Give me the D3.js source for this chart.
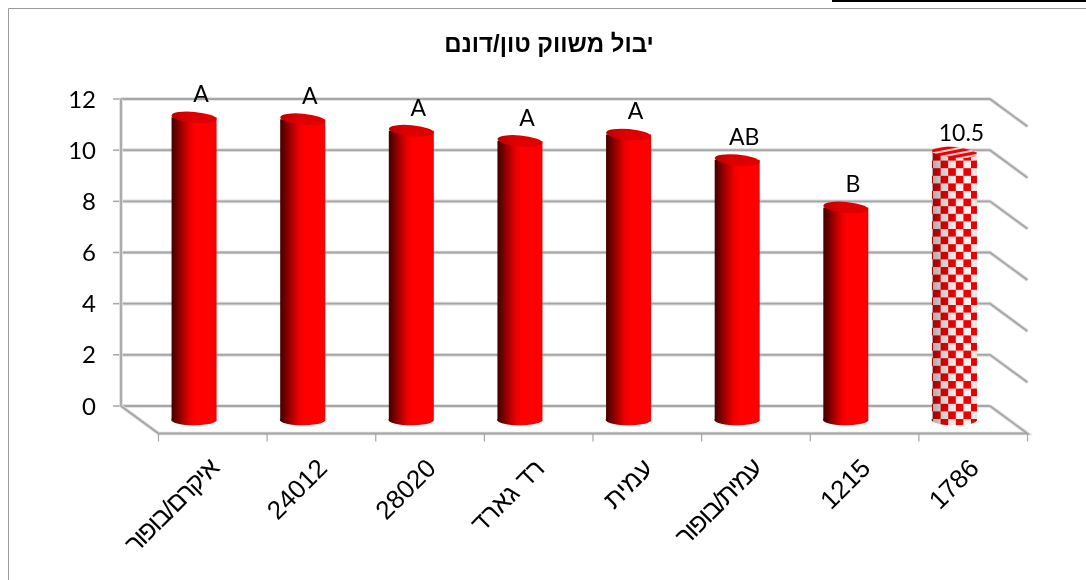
<!DOCTYPE html>
<html><head><meta charset="utf-8">
<script src="https://cdn.jsdelivr.net/npm/d3@7/dist/d3.min.js"></script>
<style>html,body{margin:0;padding:0;background:#fff;overflow:hidden}svg{display:block}</style>
</head><body><div id="c"></div>
<script>
const categories = ["איקרם/בופור","24012","28020","רד גארד","עמית","עמית/בופור","1215","1786"];
const values = [11.82,11.75,11.3,10.9,11.15,10.15,8.3,10.45];
const barLabels = ["A","A","A","A","A","AB","B","10.5"];
const yTicks = [0,2,4,6,8,10,12];
const patterned = [false,false,false,false,false,false,false,true];

const W=1086,H=580;
const svg=d3.select("#c").append("svg").attr("width",W).attr("height",H);
const defs=svg.append("defs");
const depthX=37.5, depthY=27.5;
const backLeft=121, backRight=990;
const x=d3.scaleBand().domain(categories).range([backLeft,backRight]).paddingInner(0).paddingOuter(0);
const y=d3.scaleLinear().domain([0,12]).range([406,99]);

const gs=defs.append("filter").attr("id","gsoft").attr("filterUnits","userSpaceOnUse").attr("x",0).attr("y",0).attr("width",W).attr("height",H);
gs.append("feGaussianBlur").attr("stdDeviation",0.6);
const ts=defs.append("filter").attr("id","tsoft").attr("filterUnits","userSpaceOnUse").attr("x",0).attr("y",0).attr("width",W).attr("height",H);
ts.append("feGaussianBlur").attr("stdDeviation",0.3);

const grad=defs.append("linearGradient").attr("id","cyl");
[[0,"#400000"],[0.1,"#660000"],[0.25,"#a80000"],[0.42,"#ec0000"],[0.55,"#ff0000"],[0.95,"#ff0000"],[1,"#ee0000"]]
 .forEach(s=>grad.append("stop").attr("offset",s[0]).attr("stop-color",s[1]));
const capGrad=defs.append("linearGradient").attr("id","cap");
[[0,"#b80000"],[0.35,"#dc0000"],[1,"#e00000"]].forEach(s=>capGrad.append("stop").attr("offset",s[0]).attr("stop-color",s[1]));

const cell=7.6;
const pat=defs.append("pattern").attr("id","check").attr("patternUnits","userSpaceOnUse").attr("width",cell*2).attr("height",cell*2).attr("x",933).attr("y",153);
pat.append("rect").attr("width",cell*2).attr("height",cell*2).attr("fill","#f6f0f0");
pat.append("rect").attr("width",cell).attr("height",cell).attr("fill","#f00000");
pat.append("rect").attr("x",cell).attr("y",cell).attr("width",cell).attr("height",cell).attr("fill","#f00000");
const shade=defs.append("linearGradient").attr("id","shade");
[[0,0.3],[0.25,0.14],[0.5,0.03],[0.85,0],[1,0.06]].forEach(s=>shade.append("stop").attr("offset",s[0]).attr("stop-color","#000").attr("stop-opacity",s[1]));
const capPat=defs.append("pattern").attr("id","capcheck").attr("patternUnits","userSpaceOnUse").attr("width",12).attr("height",5).attr("patternTransform","rotate(-16 955 153)");
capPat.append("rect").attr("width",12).attr("height",5).attr("fill","#eed0d0");
capPat.append("rect").attr("width",12).attr("height",3).attr("fill","#ee0000");

// frame
const frame="#9a9a9a";
svg.append("path").attr("d",`M8.5,580V8.5H${W}`).attr("fill","none").attr("stroke",frame).attr("stroke-width",1);
svg.append("rect").attr("x",832).attr("y",0).attr("width",W-832).attr("height",2).attr("fill","#000");

// walls, floor, ticks
const g=svg.append("g").attr("filter","url(#gsoft)");
const gridC="#a6a6a6";
function wall(d){
  g.append("path").attr("d",d).attr("fill","none").attr("stroke","#dcdcdc").attr("stroke-width",3.6);
  g.append("path").attr("d",d).attr("fill","none").attr("stroke",gridC).attr("stroke-width",1.8);
}
yTicks.forEach(t=>{
  const yy=y(t);
  wall(t===0 ? `M${backLeft},${yy}H${backRight}` : `M${backLeft},${yy}H${backRight}l${depthX},${depthY}`);
  g.append("line").attr("x1",backLeft-8).attr("x2",backLeft).attr("y1",yy).attr("y2",yy).attr("stroke",gridC).attr("stroke-width",1.5);
});
wall(`M${backLeft},${y(12)}V${y(0)}`);
wall(`M${backLeft},${y(0)}l${depthX},${depthY}H${backRight+depthX}L${backRight},${y(0)}`);
categories.forEach(c=>{
  const tx=x(c)+depthX;
  g.append("line").attr("x1",tx).attr("x2",tx).attr("y1",y(0)+depthY).attr("y2",y(0)+depthY+8).attr("stroke",gridC).attr("stroke-width",1.2);
});
g.append("line").attr("x1",backRight+depthX).attr("x2",backRight+depthX).attr("y1",y(0)+depthY).attr("y2",y(0)+depthY+8).attr("stroke",gridC).attr("stroke-width",1.2);

// cylinders
const barW=45, ry=5.5, mid=0.5;
const bars=svg.append("g").attr("filter","url(#gsoft)");
const labels=svg.append("g").attr("filter","url(#tsoft)");
categories.forEach((c,i)=>{
  const cx=x(c)+x.bandwidth()/2+depthX*mid;
  const off=depthY*mid;
  const top=y(values[i])+off, base=y(0)+off-1;
  const l=cx-barW/2,r=cx+barW/2;
  const body=`M${l},${top}V${base}A${barW/2},${ry} 0 0 0 ${r},${base+2}V${top}Z`;
  bars.append("path").attr("d",body).attr("fill",patterned[i]?"url(#check)":"url(#cyl)");
  if(patterned[i]) bars.append("path").attr("d",body).attr("fill","url(#shade)");
  bars.append("ellipse").attr("cx",cx).attr("cy",top).attr("rx",barW/2).attr("ry",ry).attr("transform",`rotate(5 ${cx} ${top})`)
    .attr("fill",patterned[i]?"url(#capcheck)":"url(#cap)");
  labels.append("text").attr("x",cx+(patterned[i]?7:7)).attr("y",top-(patterned[i]?11.5:15))
    .attr("text-anchor","middle").attr("font-family","Lato, 'Open Sans', sans-serif").attr("font-size",23).attr("fill","#000").text(barLabels[i]);
});

// y labels
yTicks.forEach(t=>{
  labels.append("text").attr("x",96).attr("y",y(t)+8.5).attr("text-anchor","end")
    .attr("font-family","Lato, 'Open Sans', sans-serif").attr("font-size",24).attr("fill","#000").text(t);
});

// x labels
categories.forEach(c=>{
  const ax=x(c)+depthX+x.bandwidth()/2+2.5, ay=465;
  labels.append("text").attr("transform",`translate(${ax},${ay}) rotate(-45)`).attr("text-anchor","end").attr("dominant-baseline","middle")
    .attr("direction","ltr").attr("font-family","'Liberation Sans', Arial, sans-serif").attr("font-size",26)
    .attr("letter-spacing",c.includes("/")?-1.4:0).attr("fill","#000").text(c);
});

// title
labels.append("text").attr("x",549).attr("y",52).attr("text-anchor","middle")
  .attr("font-family","'Liberation Sans', Arial, sans-serif").attr("font-weight","bold").attr("font-size",24).attr("fill","#000").text("יבול משווק טון/דונם");
</script></body></html>
